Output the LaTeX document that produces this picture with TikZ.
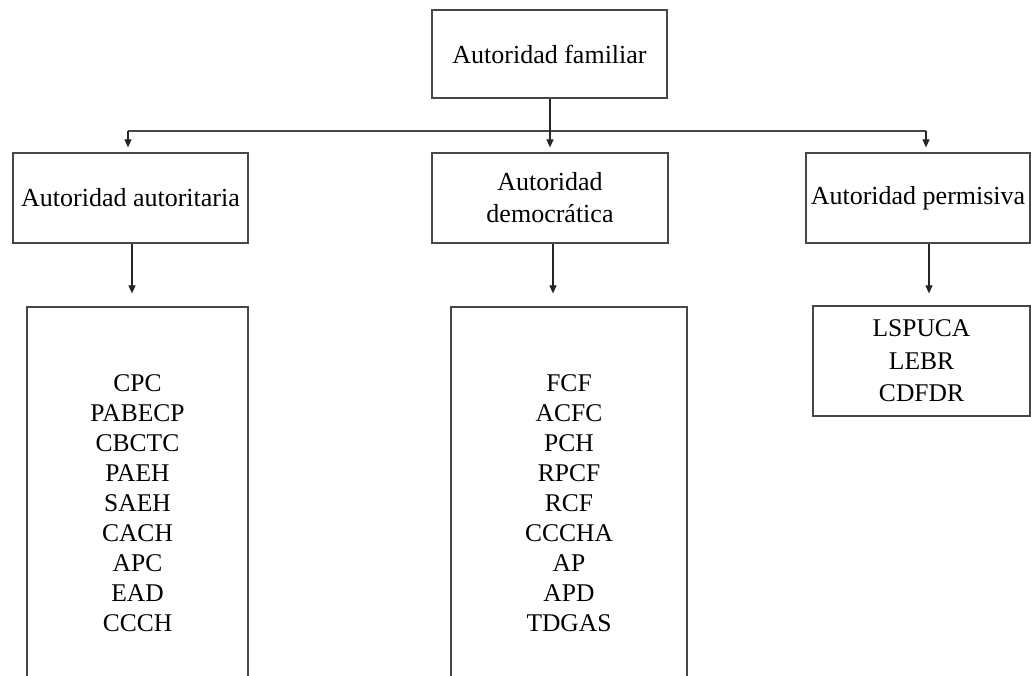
\documentclass[tikz,border=0pt]{standalone}
\usepackage{fontspec}
\setmainfont{Liberation Serif}
\usetikzlibrary{arrows.meta}
\begin{document}
\begin{tikzpicture}[x=1pt,y=-1pt,
  box/.style={draw=black!72, line width=1.2pt, inner sep=0pt, align=center,
    font=\fontsize{25.5}{30}\selectfont, text=black},
  arr/.style={draw=black!85, line width=1.2pt, -{Triangle[length=8pt,width=7pt]}},
  ln/.style={draw=black!72, line width=1.2pt}]
\clip (0,0) rectangle (1031,676);
\fill[white] (0,0) rectangle (1031,676);
% top
\node[box, minimum width=235pt, minimum height=88pt, font=\fontsize{26}{30}\selectfont] (top) at (549.5,54) {Autoridad familiar};
% second level
\node[box, minimum width=235pt, minimum height=90pt, font=\fontsize{26}{30}\selectfont] (lt) at (130.5,198) {Autoridad autoritaria};
\node[box, minimum width=236pt, minimum height=90pt, font=\fontsize{26}{32}\selectfont] (mt) at (550,198) {Autoridad\\democrática};
\node[box, minimum width=224pt, minimum height=90pt, font=\fontsize{26}{30}\selectfont] (rt) at (918,198) {Autoridad permisiva};
% third level
\node[box, minimum width=221pt, minimum height=393pt] (lb) at (137.5,503.5)
  {CPC\\PABECP\\CBCTC\\PAEH\\SAEH\\CACH\\APC\\EAD\\CCCH};
\node[box, minimum width=236pt, minimum height=393pt] (mb) at (569,503.5)
  {FCF\\ACFC\\PCH\\RPCF\\RCF\\CCCHA\\AP\\APD\\TDGAS};
\node[box, minimum width=217pt, minimum height=110pt, font=\fontsize{25.5}{32.5}\selectfont] (rb) at (921.5,361)
  {LSPUCA\\LEBR\\CDFDR};
% connectors
\coordinate (lj) at (128,131);
\coordinate (mj) at (550,131);
\coordinate (rj) at (926,131);
\draw[ln] (lj) -- (rj);
\draw[arr, shorten >=5pt] (top.south -| mj) -- (mt.north);
\draw[arr, shorten >=5pt] (lj) -- (lj |- lt.north);
\draw[arr, shorten >=5pt] (rj) -- (rj |- rt.north);
\coordinate (la) at (132,0);
\coordinate (ma) at (553,0);
\coordinate (ra) at (929,0);
\draw[arr, shorten >=13pt] (la |- lt.south) -- (la |- lb.north);
\draw[arr, shorten >=13pt] (ma |- mt.south) -- (ma |- mb.north);
\draw[arr, shorten >=12pt] (ra |- rt.south) -- (ra |- rb.north);
\end{tikzpicture}
\end{document}
